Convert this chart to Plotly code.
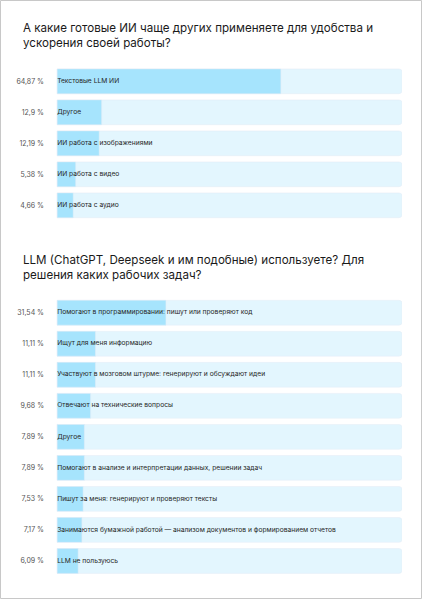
import plotly.graph_objects as go

# Chart 1: which ready-made AI tools are used most
q1_title = "А какие готовые ИИ чаще других применяете для удобства и<br>ускорения своей работы?"
q1_labels = ["Текстовые LLM ИИ", "Другое", "ИИ работа с изображениями",
             "ИИ работа с видео", "ИИ работа с аудио"]
q1_values = [64.87, 12.9, 12.19, 5.38, 4.66]
q1_pct = ["64,87 %", "12,9 %", "12,19 %", "5,38 %", "4,66 %"]

# Chart 2: what LLMs are used for
q2_title = "LLM (ChatGPT, Deepseek и им подобные) используете? Для<br>решения каких рабочих задач?"
q2_labels = ["Помогают в программировании: пишут или проверяют код",
             "Ищут для меня информацию",
             "Участвуют в мозговом штурме: генерируют и обсуждают идеи",
             "Отвечают на технические вопросы",
             "Другое",
             "Помогают в анализе и интерпретации данных, решении задач",
             "Пишут за меня: генерируют и проверяют тексты",
             "Занимаются бумажной работой — анализом документов и формированием отчетов",
             "LLM не пользуюсь"]
q2_values = [31.54, 11.11, 11.11, 9.68, 7.89, 7.89, 7.53, 7.17, 6.09]
q2_pct = ["31,54 %", "11,11 %", "11,11 %", "9,68 %", "7,89 %", "7,89 %", "7,53 %", "7,17 %", "6,09 %"]

W, H = 423, 600
FONT = "Inter"
TRACK = "#E3F6FE"
BAR = "#A6E4FD"

fig = go.Figure()


def add_block(labels, values, xa, ya):
    n = len(labels)
    cats = list(range(n))
    fig.add_trace(go.Bar(x=[100] * n, y=cats, orientation="h", marker_color=TRACK,
                         width=0.8, xaxis=xa, yaxis=ya, hoverinfo="skip"))
    fig.add_trace(go.Bar(x=values, y=cats, orientation="h", marker_color=BAR,
                         width=0.8, xaxis=xa, yaxis=ya))
    fig.add_trace(go.Scatter(x=[0] * n, y=cats, mode="text", text=labels,
                             textposition="middle right", cliponaxis=False,
                             textfont=dict(family=FONT, size=6.7, color="#262626"),
                             xaxis=xa, yaxis=ya, hoverinfo="skip"))


add_block(q1_labels, q1_values, "x", "y")
add_block(q2_labels, q2_values, "x2", "y2")

xdom = [52 / W, 402 / W]
axis_x = dict(range=[-1.5, 100], domain=xdom, showgrid=False, zeroline=False,
              showticklabels=False, fixedrange=True, automargin=False)
axis_y = dict(ticks="", showgrid=False, zeroline=False, ticklabelstandoff=7,
              automargin=False, fixedrange=True,
              tickfont=dict(family=FONT, size=7, color="#555555"))
fig.update_layout(
    width=W, height=H,
    margin=dict(l=0, r=0, t=0, b=0),
    paper_bgcolor="white", plot_bgcolor="white",
    showlegend=False, barmode="overlay", barcornerradius=3,
    xaxis=dict(axis_x, anchor="y"),
    xaxis2=dict(axis_x, anchor="y2"),
    yaxis=dict(axis_y, domain=[1 - 220.8 / H, 1 - 65.8 / H], range=[4.5, -0.5],
               tickvals=list(range(len(q1_pct))), ticktext=q1_pct, anchor="x"),
    yaxis2=dict(axis_y, domain=[1 - 576.5 / H, 1 - 297.2 / H], range=[8.5, -0.5],
                tickvals=list(range(len(q2_pct))), ticktext=q2_pct, anchor="x2"),
)

# question titles
for txt, ytop in [(q1_title, 19), (q2_title, 251)]:
    fig.add_annotation(text=txt, xref="paper", yref="paper", x=21 / W, y=1 - ytop / H,
                       xanchor="left", yanchor="top", align="left", showarrow=False,
                       font=dict(family=FONT, size=11.6, color="#1a1a1a"))

# page frame
fig.add_shape(type="rect", xref="paper", yref="paper", x0=0.5 / W, x1=421.5 / W,
              y0=1 - 598.5 / H, y1=1 - 0.5 / H, line=dict(color="#c8c8c8", width=1))

# drop the default 8px body margin so the figure sits at the window edge
fig.write_html("out.html", config={"displayModeBar": False},
               post_script="document.body.style.margin='0';")
